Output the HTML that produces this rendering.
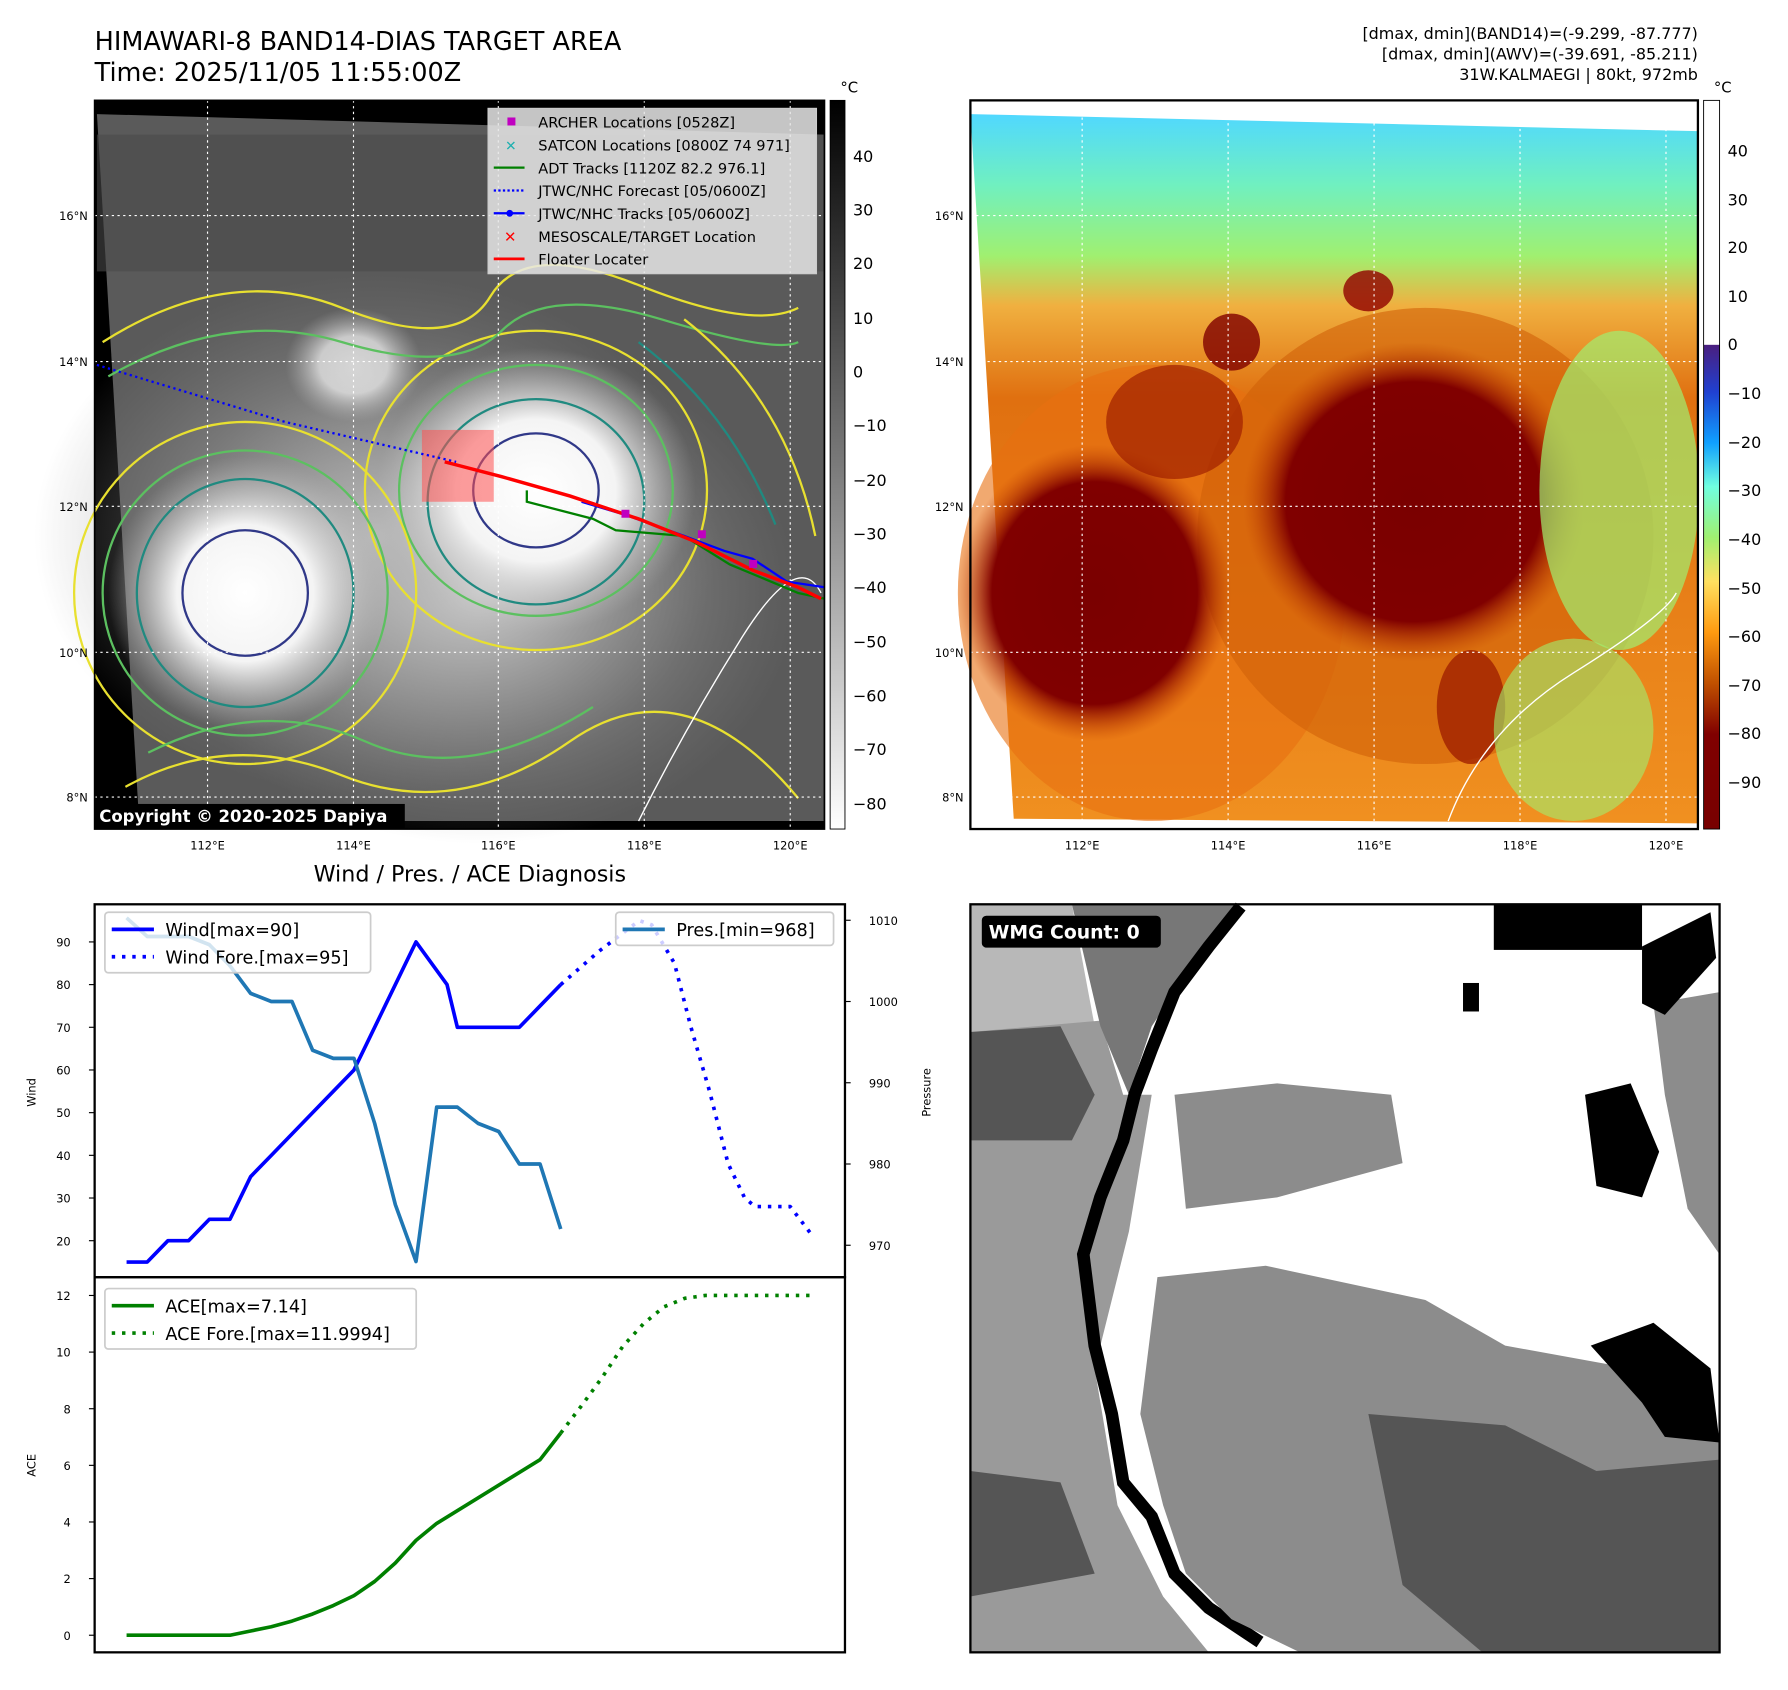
<!DOCTYPE html>
<html><head><meta charset="utf-8"><style>
html,body{margin:0;padding:0;background:#fff;}
svg{display:block;font-family:"DejaVu Sans","Liberation Sans",sans-serif;}
</style></head><body>
<svg id="root" width="1788" height="1690" viewBox="0 0 1568 1482" xmlns="http://www.w3.org/2000/svg">
<defs>
<linearGradient id="grayBar" x1="0" y1="0" x2="0" y2="1"><stop offset="0" stop-color="#000"/><stop offset="0.5" stop-color="#7a7a7a"/><stop offset="1" stop-color="#fff"/></linearGradient>
<linearGradient id="awvBar" x1="0" y1="0" x2="0" y2="1">
<stop offset="0" stop-color="#fff"/><stop offset="0.335" stop-color="#fff"/><stop offset="0.336" stop-color="#4a1f80"/>
<stop offset="0.40" stop-color="#2040d0"/><stop offset="0.47" stop-color="#10a0ff"/><stop offset="0.53" stop-color="#70ffe0"/>
<stop offset="0.60" stop-color="#a0f070"/><stop offset="0.66" stop-color="#ffe060"/><stop offset="0.73" stop-color="#ff9a10"/>
<stop offset="0.80" stop-color="#c05000"/><stop offset="0.87" stop-color="#800000"/><stop offset="1" stop-color="#780000"/></linearGradient>
<linearGradient id="skyGrad" x1="0" y1="0" x2="0" y2="1"><stop offset="0" stop-color="#50d8ff"/><stop offset="0.1" stop-color="#70f0c0"/><stop offset="0.2" stop-color="#a0f070"/><stop offset="0.27" stop-color="#f0b040"/><stop offset="0.4" stop-color="#e07010"/><stop offset="1" stop-color="#f09020"/></linearGradient>
<radialGradient id="eyeDark"><stop offset="0" stop-color="#7a0000"/><stop offset="0.75" stop-color="#800000"/><stop offset="1" stop-color="#c04000" stop-opacity="0"/></radialGradient>
<radialGradient id="cloudWhite"><stop offset="0" stop-color="#fff"/><stop offset="0.5" stop-color="#f4f4f4"/><stop offset="1" stop-color="#bbb" stop-opacity="0"/></radialGradient>
<radialGradient id="cloudGray"><stop offset="0" stop-color="#c8c8c8"/><stop offset="1" stop-color="#888" stop-opacity="0"/></radialGradient>
</defs>

<text x="83" y="44" font-size="22.4">HIMAWARI-8 BAND14-DIAS TARGET AREA</text>
<text x="83" y="71" font-size="22.4">Time: 2025/11/05 11:55:00Z</text>
<g font-size="14" text-anchor="end">
<text x="1489" y="34">[dmax, dmin](BAND14)=(-9.299, -87.777)</text>
<text x="1489" y="52">[dmax, dmin](AWV)=(-39.691, -85.211)</text>
<text x="1489" y="70">31W.KALMAEGI | 80kt, 972mb</text>
</g>

<g>
<rect x="83" y="88" width="640" height="639" fill="#000"/>
<polygon points="85,100 723,118 723,720 122,720" fill="#5a5a5a"/>
<rect x="85" y="118" width="638" height="120" fill="#4a4a4a" opacity="0.6"/>
<ellipse cx="330" cy="470" rx="300" ry="230" fill="url(#cloudGray)"/>
<ellipse cx="420" cy="520" rx="280" ry="220" fill="url(#cloudGray)"/>
<ellipse cx="470" cy="430" rx="140" ry="125" fill="url(#cloudWhite)"/>
<ellipse cx="215" cy="520" rx="120" ry="120" fill="url(#cloudWhite)"/>
<ellipse cx="310" cy="320" rx="60" ry="50" fill="url(#cloudWhite)" opacity="0.7"/>
<g fill="none" stroke-width="2">
<ellipse cx="470" cy="430" rx="150" ry="140" stroke="#e8e030"/>
<ellipse cx="470" cy="430" rx="120" ry="110" stroke="#5cc060"/>
<ellipse cx="470" cy="440" rx="95" ry="90" stroke="#208a80"/>
<ellipse cx="470" cy="430" rx="55" ry="50" stroke="#303888"/>
<ellipse cx="215" cy="520" rx="150" ry="150" stroke="#e8e030"/>
<ellipse cx="215" cy="520" rx="125" ry="125" stroke="#5cc060"/>
<ellipse cx="215" cy="520" rx="95" ry="100" stroke="#208a80"/>
<ellipse cx="215" cy="520" rx="55" ry="55" stroke="#303888"/>
<path d="M90,300 Q200,230 300,270 T430,260 T560,250 T700,270" stroke="#e8e030"/>
<path d="M95,330 Q200,270 300,300 T440,290 T580,280 T700,300" stroke="#5cc060"/>
<path d="M110,690 Q200,640 300,680 T500,650 T700,700" stroke="#e8e030"/>
<path d="M130,660 Q230,610 320,650 T520,620" stroke="#5cc060"/>
<path d="M560,300 Q640,360 680,460" stroke="#208a80"/>
<path d="M600,280 Q690,350 715,470" stroke="#e8e030"/>
</g>
<g stroke="#fff" stroke-width="1" stroke-dasharray="2,3">
<line x1="182" y1="88" x2="182" y2="727"/><line x1="310" y1="88" x2="310" y2="727"/><line x1="437" y1="88" x2="437" y2="727"/><line x1="565" y1="88" x2="565" y2="727"/><line x1="693" y1="88" x2="693" y2="727"/>
<line x1="83" y1="189" x2="723" y2="189"/><line x1="83" y1="317" x2="723" y2="317"/><line x1="83" y1="444" x2="723" y2="444"/><line x1="83" y1="572" x2="723" y2="572"/><line x1="83" y1="699" x2="723" y2="699"/>
</g>
<path d="M560,720 Q600,640 650,560 T720,520" fill="none" stroke="#fff" stroke-width="1.2"/>
<rect x="370" y="377" width="63" height="63" fill="#ff5050" opacity="0.55"/>
<polyline points="85,320 250,370 400,405" fill="none" stroke="#0000ff" stroke-width="2" stroke-dasharray="2,3"/>
<polyline points="462,430 462,440 520,455 540,465 600,470 640,495 700,520 723,525" fill="none" stroke="#008000" stroke-width="2"/>
<polyline points="510,440 550,452 600,470 635,483 660,490 690,510 723,515" fill="none" stroke="#0000ff" stroke-width="2"/>
<polyline points="390,405 440,418 500,435 560,455 610,475 660,500 700,515 720,525" fill="none" stroke="#ff0000" stroke-width="3"/>
<rect x="545" y="447" width="7" height="7" fill="#c000c0"/><rect x="612" y="465" width="7" height="7" fill="#c000c0"/><rect x="657" y="491" width="7" height="7" fill="#c000c0"/>
<rect x="83" y="705" width="272" height="22" fill="#000"/>
<text x="87" y="721" font-size="14.5" font-weight="bold" fill="#fff">Copyright © 2020-2025 Dapiya</text>
<g>
<rect x="428" y="95" width="288" height="145" fill="#e8e8e8" fill-opacity="0.85" stroke="#ccc"/>
<g font-size="12.8">
<rect x="445" y="103" width="7" height="7" fill="#c000c0"/><text x="472" y="112">ARCHER Locations [0528Z]</text>
<text x="443" y="132" fill="#20b0b0" font-size="12">✕</text><text x="472" y="132">SATCON Locations [0800Z 74 971]</text>
<line x1="433" y1="147" x2="460" y2="147" stroke="#008000" stroke-width="2"/><text x="472" y="152">ADT Tracks [1120Z 82.2 976.1]</text>
<line x1="433" y1="167" x2="460" y2="167" stroke="#0000ff" stroke-width="2" stroke-dasharray="2,2"/><text x="472" y="172">JTWC/NHC Forecast [05/0600Z]</text>
<line x1="433" y1="187" x2="460" y2="187" stroke="#0000ff" stroke-width="2"/><circle cx="447" cy="187" r="3" fill="#0000ff"/><text x="472" y="192">JTWC/NHC Tracks [05/0600Z]</text>
<text x="442" y="212" fill="#ff0000" font-size="13" font-weight="bold">✕</text><text x="472" y="212">MESOSCALE/TARGET Location</text>
<line x1="433" y1="227" x2="460" y2="227" stroke="#ff0000" stroke-width="2.5"/><text x="472" y="232">Floater Locater</text>
</g></g>
<rect x="83" y="88" width="640" height="639" fill="none" stroke="#000" stroke-width="1.5"/>
</g>
<rect x="728" y="88" width="13" height="639" fill="url(#grayBar)" stroke="#000" stroke-width="0.8"/>
<text x="737" y="81" font-size="13">°C</text>
<g font-size="14">
<text x="748" y="142">40</text><text x="748" y="189">30</text><text x="748" y="236">20</text><text x="748" y="284">10</text><text x="748" y="331">0</text><text x="748" y="378">−10</text><text x="748" y="426">−20</text><text x="748" y="473">−30</text><text x="748" y="520">−40</text><text x="748" y="568">−50</text><text x="748" y="615">−60</text><text x="748" y="662">−70</text><text x="748" y="710">−80</text>
</g>
<g font-size="10" text-anchor="end">
<text x="77" y="193">16°N</text><text x="77" y="321">14°N</text><text x="77" y="448">12°N</text><text x="77" y="576">10°N</text><text x="77" y="703">8°N</text></g>
<g font-size="10" text-anchor="middle">
<text x="182" y="745">112°E</text><text x="310" y="745">114°E</text><text x="437" y="745">116°E</text><text x="565" y="745">118°E</text><text x="693" y="745">120°E</text></g>

<g>
<rect x="851" y="88" width="638" height="639" fill="#fff"/>
<polygon points="851,100 1489,115 1489,722 889,718" fill="url(#skyGrad)"/>
<ellipse cx="1010" cy="520" rx="170" ry="200" fill="#e87010" opacity="0.6"/>
<ellipse cx="1250" cy="470" rx="200" ry="200" fill="#d06008" opacity="0.6"/>
<ellipse cx="1240" cy="440" rx="150" ry="140" fill="url(#eyeDark)"/>
<ellipse cx="960" cy="520" rx="120" ry="130" fill="url(#eyeDark)"/>
<ellipse cx="1030" cy="370" rx="60" ry="50" fill="#a02000" opacity="0.7"/>
<ellipse cx="1080" cy="300" rx="25" ry="25" fill="#800000" opacity="0.8"/>
<ellipse cx="1200" cy="255" rx="22" ry="18" fill="#900000" opacity="0.8"/>
<ellipse cx="1290" cy="620" rx="30" ry="50" fill="#a02000" opacity="0.8"/>
<ellipse cx="1420" cy="430" rx="70" ry="140" fill="#a0f070" opacity="0.7"/>
<ellipse cx="1380" cy="640" rx="70" ry="80" fill="#a0f070" opacity="0.6"/>
<path d="M1270,720 Q1300,640 1380,590 T1470,520" fill="none" stroke="#fff" stroke-width="1.2"/>
<g stroke="#fff" stroke-width="1" stroke-dasharray="2,3">
<line x1="949" y1="88" x2="949" y2="727"/><line x1="1077" y1="88" x2="1077" y2="727"/><line x1="1205" y1="88" x2="1205" y2="727"/><line x1="1333" y1="88" x2="1333" y2="727"/><line x1="1461" y1="88" x2="1461" y2="727"/>
<line x1="851" y1="189" x2="1489" y2="189"/><line x1="851" y1="317" x2="1489" y2="317"/><line x1="851" y1="444" x2="1489" y2="444"/><line x1="851" y1="572" x2="1489" y2="572"/><line x1="851" y1="699" x2="1489" y2="699"/>
</g>
<rect x="851" y="88" width="638" height="639" fill="none" stroke="#000" stroke-width="2"/>
</g>
<rect x="1494" y="88" width="14" height="639" fill="url(#awvBar)" stroke="#000" stroke-width="0.8"/>
<text x="1503" y="81" font-size="13">°C</text>
<g font-size="14">
<text x="1515" y="137">40</text><text x="1515" y="180">30</text><text x="1515" y="222">20</text><text x="1515" y="265">10</text><text x="1515" y="307">0</text><text x="1515" y="350">−10</text><text x="1515" y="393">−20</text><text x="1515" y="435">−30</text><text x="1515" y="478">−40</text><text x="1515" y="521">−50</text><text x="1515" y="563">−60</text><text x="1515" y="606">−70</text><text x="1515" y="648">−80</text><text x="1515" y="691">−90</text>
</g>
<g font-size="10" text-anchor="end">
<text x="845" y="193">16°N</text><text x="845" y="321">14°N</text><text x="845" y="448">12°N</text><text x="845" y="576">10°N</text><text x="845" y="703">8°N</text></g>
<g font-size="10" text-anchor="middle">
<text x="949" y="745">112°E</text><text x="1077" y="745">114°E</text><text x="1205" y="745">116°E</text><text x="1333" y="745">118°E</text><text x="1461" y="745">120°E</text></g>

<g>
<rect x="851" y="793" width="657" height="656" fill="#fff"/>
<polygon points="851,793 940,793 960,900 851,910" fill="#b8b8b8"/>
<polygon points="851,905 965,895 985,960 1010,960 990,1080 960,1200 980,1320 1020,1400 1060,1449 851,1449" fill="#9a9a9a"/>
<polygon points="851,905 930,900 960,960 940,1000 851,1000" fill="#555"/>
<polygon points="851,1290 930,1300 960,1380 851,1400" fill="#555"/>
<polygon points="940,793 1085,793 1050,840 1010,900 990,960 965,900" fill="#777"/>
<polyline points="1088,795 1060,830 1030,870 1010,920 995,960 985,1000 965,1050 950,1100 960,1180 975,1240 985,1300 1010,1330 1030,1380 1060,1410 1090,1430 1105,1440" fill="none" stroke="#000" stroke-width="11"/>
<polygon points="1015,1120 1110,1110 1250,1140 1320,1180 1430,1200 1508,1260 1508,1449 1140,1449 1080,1420 1040,1380 1020,1320 1000,1240" fill="#8c8c8c"/>
<polygon points="1200,1240 1320,1250 1400,1290 1508,1280 1508,1449 1300,1449 1230,1390" fill="#555"/>
<polygon points="1030,960 1120,950 1220,960 1230,1020 1120,1050 1040,1060" fill="#8c8c8c"/>
<polygon points="1450,880 1508,870 1508,1100 1480,1060 1460,960" fill="#8c8c8c"/>
<rect x="1310" y="793" width="130" height="40" fill="#000"/>
<polygon points="1440,830 1500,800 1505,840 1460,890 1440,880" fill="#000"/>
<polygon points="1390,960 1430,950 1455,1010 1440,1050 1400,1040" fill="#000"/>
<polygon points="1395,1180 1450,1160 1500,1200 1508,1265 1460,1260 1440,1230" fill="#000"/>
<rect x="1283" y="862" width="14" height="25" fill="#000"/>
<rect x="851" y="793" width="657" height="656" fill="none" stroke="#000" stroke-width="2"/>
<rect x="861" y="803" width="157" height="28" rx="4" fill="#000"/>
<text x="867" y="823" font-size="16.5" font-weight="bold" fill="#fff">WMG Count: 0</text>
</g>

<text x="412" y="773" font-size="19.5" text-anchor="middle">Wind / Pres. / ACE Diagnosis</text>
<g id="chart"></g>
</svg>
<script>
const windVals=[15,15,20,20,25,25,35,40,45,50,55,60,75,90,80,70,70,70,70,75,80];
const windIdx=[0,1,2,3,4,5,6,7,8,9,10,11,12.5,14,15.5,16,17,18,19,20,21];
const windForeIdx=[21,22.9,24.8,25.4,26.5,27.3,28.2,29.1,29.9,30.4,32.1,33.2];
const windForeVals=[80,88,95,94,85,70,55,38,30,28,28,21];
const presVals=[1010.3,1008,1008,1008,1007,1004.4,1001,1000,1000,994,993,993,985,975,968,987,987,985,984,980,980,972];
const aceVals=[0,0,0,0,0,0,0.15,0.3,0.5,0.75,1.05,1.4,1.9,2.55,3.35,3.95,4.4,4.85,5.3,5.75,6.2,7.14];
const aceForeIdx=[21,22,23,24,25,26,27,28,29,30,33.2];
const aceForeVals=[7.14,8.1,9.1,10.2,11.0,11.6,11.9,12.0,12.0,12.0,12.0];
const windTicks=[20,30,40,50,60,70,80,90];
const presTicks=[970,980,990,1000,1010];
const aceTicks=[0,2,4,6,8,10,12];

const NS='http://www.w3.org/2000/svg';
const g=document.getElementById('chart');
const X=i=>111+i*18.13;
const YW=v=>826+(90-v)*3.743;
const YP=v=>807+(1010-v)*7.125;
const YA=v=>1434-v*24.83;
function mk(tag,attrs,parent){const e=document.createElementNS(NS,tag);for(const k in attrs)e.setAttribute(k,attrs[k]);(parent||g).appendChild(e);return e;}
function txt(x,y,s,size,anchor){const t=mk('text',{x:x,y:y,'font-size':size,'text-anchor':anchor||'start'});t.textContent=s;return t;}

let f1=mk('rect',{x:83,y:793,width:658,height:327,fill:'none',stroke:'#000','stroke-width':2});


let f2=mk('rect',{x:83,y:1120,width:658,height:329,fill:'none',stroke:'#000','stroke-width':2});



windTicks.forEach(v=>{mk('line',{x1:78,x2:83,y1:YW(v),y2:YW(v),stroke:'#000'});
const t=txt(62,YW(v)+4,String(v),10,'end');

});
presTicks.forEach(v=>{mk('line',{x1:741,x2:746,y1:YP(v),y2:YP(v),stroke:'#000'});
const t=txt(762,YP(v)+4,String(v),10,'start');

});
aceTicks.forEach(v=>{mk('line',{x1:78,x2:83,y1:YA(v),y2:YA(v),stroke:'#000'});
const t=txt(62,YA(v)+4,String(v),10,'end');

});

let yl=txt(0,0,'Wind',10,'middle');yl.setAttribute('transform','translate(31,958) rotate(-90)');


let pl=txt(0,0,'Pressure',10,'middle');pl.setAttribute('transform','translate(816,958) rotate(-90)');


let al=txt(0,0,'ACE',10,'middle');al.setAttribute('transform','translate(31,1285) rotate(-90)');



function line(xs,ys,color,dash,name){const p=mk('polyline',{points:xs.map((x,i)=>x+','+ys[i]).join(' '),fill:'none',stroke:color,'stroke-width':3.2,'stroke-linejoin':'round'});
if(dash)p.setAttribute('stroke-dasharray',dash);

return p;}
line(windIdx.map(X),windVals.map(YW),'#0000ff',null,'wind-line');
line(windForeIdx.map(X),windForeVals.map(YW),'#0000ff','3,6','wind-forecast-line');
line(presVals.map((v,i)=>X(i)),presVals.map(YP),'#1f77b4',null,'pressure-line');
line(aceVals.map((v,i)=>X(i)),aceVals.map(YA),'#008000',null,'ace-line');
line(aceForeIdx.map(X),aceForeVals.map(YA),'#008000','3,6','ace-forecast-line');

function legend(x,y,w,h,items,name){const lg=mk('g',{});


mk('rect',{x:x,y:y,width:w,height:h,rx:3,fill:'#fff','fill-opacity':0.8,stroke:'#ccc','stroke-width':1.5},lg);
items.forEach((it,k)=>{const yy=y+15+k*24;
const l=mk('line',{x1:x+6,x2:x+43,y1:yy,y2:yy,stroke:it[1],'stroke-width':3.2},lg);if(it[2])l.setAttribute('stroke-dasharray',it[2]);
const t=mk('text',{x:x+53,y:yy+6,'font-size':15.5},lg);t.textContent=it[0];});}
legend(92,800,233,53,[['Wind[max=90]','#0000ff'],['Wind Fore.[max=95]','#0000ff','3,6']],'wind-legend');
legend(540,800,191,29,[['Pres.[min=968]','#1f77b4']],'pressure-legend');
legend(92,1130,273,53,[['ACE[max=7.14]','#008000'],['ACE Fore.[max=11.9994]','#008000','3,6']],'ace-legend');
</script>
</body></html>
